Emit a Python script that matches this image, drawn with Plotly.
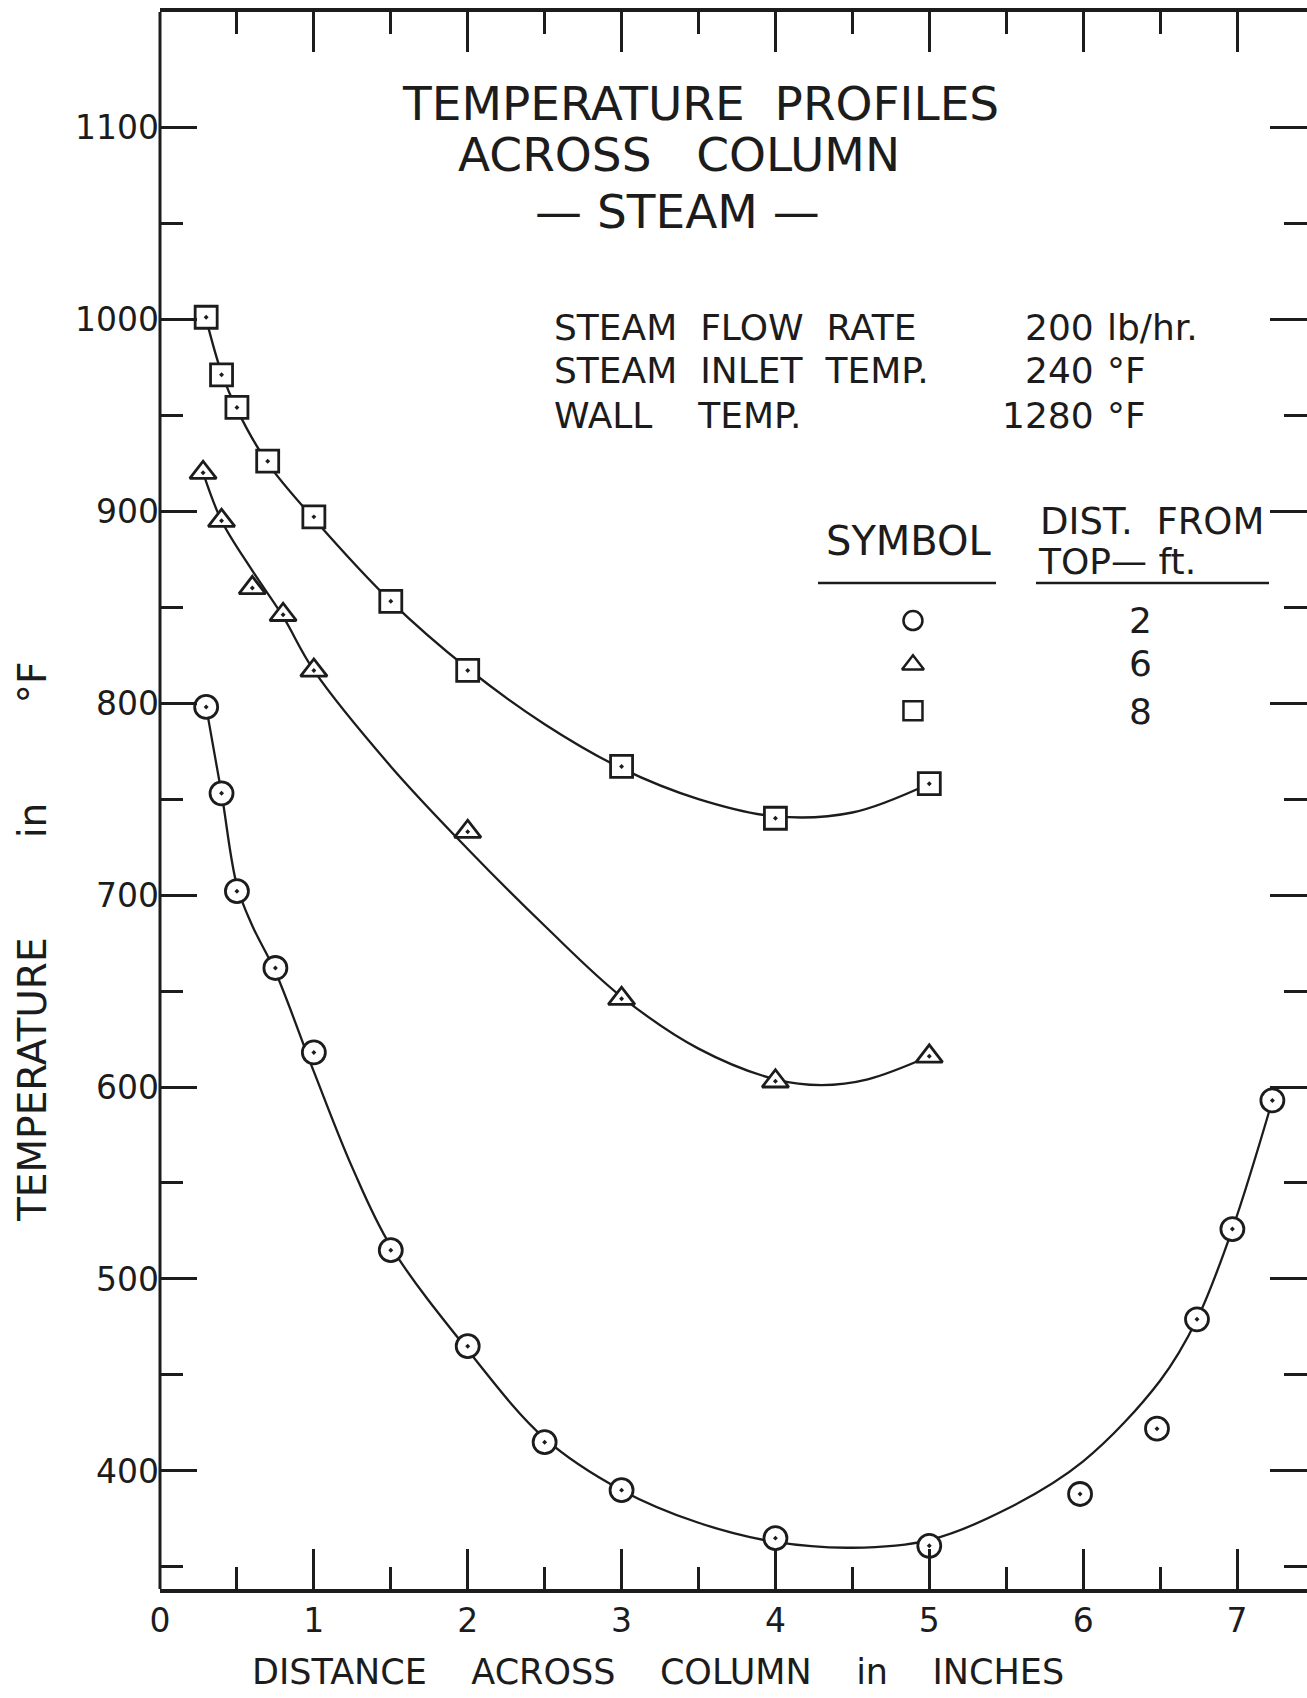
import plotly.graph_objects as go

# ---------------- data ----------------
# measured points, 8 ft from top (squares)
sq_x = [0.30, 0.40, 0.50, 0.70, 1.0, 1.5, 2.0, 3.0, 4.0, 5.0]
sq_y = [1001, 971, 954, 926, 897, 853, 817, 767, 740, 758]
# measured points, 6 ft from top (triangles)
tri_x = [0.28, 0.40, 0.60, 0.80, 1.0, 2.0, 3.0, 4.0, 5.0]
tri_y = [920, 895, 860, 846, 817, 733, 646, 603, 616]
# measured points, 2 ft from top (circles)
cir_x = [0.30, 0.40, 0.50, 0.75, 1.0, 1.5, 2.0, 2.5, 3.0, 4.0, 5.0, 5.98, 6.48, 6.74, 6.97, 7.23]
cir_y = [798, 753, 702, 662, 618, 515, 465, 415, 390, 365, 361, 388, 422, 479, 526, 593]

# hand-drawn smooth curves
fit8_x = [0.30, 0.40, 0.50, 0.70, 1.0, 1.5, 2.0, 2.5, 3.0, 3.5, 4.0, 4.5, 5.0]
fit8_y = [1000, 972, 953, 925, 896, 853, 818, 789, 766, 750, 741, 743, 758]
fit6_x = [0.28, 0.40, 0.60, 0.80, 1.0, 1.5, 2.0, 2.5, 3.0, 3.5, 4.0, 4.3, 4.6, 5.0]
fit6_y = [920, 895, 869, 845, 817, 767, 724, 684, 647, 620, 604, 601, 604, 616]
fit2_x = [0.30, 0.40, 0.50, 0.60, 0.75, 1.0, 1.25, 1.5, 2.0, 2.5, 3.0, 3.5, 4.0, 4.5, 5.0, 5.5, 6.0, 6.5, 6.74, 6.97, 7.23]
fit2_y = [798, 753, 705, 684, 660, 608, 558, 517, 463, 417, 390, 373, 363, 360, 364, 380, 405, 447, 479, 526, 593]

# axis ticks
x_major = [0, 1, 2, 3, 4, 5, 6, 7]
x_minor = [0.5, 1.5, 2.5, 3.5, 4.5, 5.5, 6.5]
y_major = [400, 500, 600, 700, 800, 900, 1000, 1100]
y_minor = [350, 450, 550, 650, 750, 850, 950, 1050]

# legend table
leg_symbols = ["circle-open", "triangle-up-open", "square-open"]
leg_dist = ["2", "6", "8"]

# conditions box
cond_labels = ["STEAM\u00a0\u00a0FLOW\u00a0\u00a0RATE", "STEAM\u00a0\u00a0INLET\u00a0\u00a0TEMP.",
               "WALL\u00a0\u00a0\u00a0\u00a0TEMP."]
cond_values = ["200", "240", "1280"]
cond_units = ["lb/hr.", "\u00b0F", "\u00b0F"]

# ---------------- styling ----------------
INK = "#1c1c1c"
FONT = "DejaVu Sans"
ML, MT, MR, MB = 160, 12, 0, 109
WIDTH, HEIGHT = 1307, 1698
PW, PH = WIDTH - ML - MR, HEIGHT - MT - MB


def px(X):
    return (X - ML) / PW


def py(Y):
    return (HEIGHT - MB - Y) / PH


fig = go.Figure()

for fx, fy in [(fit8_x, fit8_y), (fit6_x, fit6_y), (fit2_x, fit2_y)]:
    fig.add_trace(go.Scatter(x=fx, y=fy, mode="lines",
                             line=dict(color=INK, width=2.3, shape="spline", smoothing=1.0),
                             hoverinfo="skip", showlegend=False))

for mx, my, sym, sz in [(sq_x, sq_y, "square-dot", 22), (tri_x, tri_y, "triangle-up-dot", 23),
                        (cir_x, cir_y, "circle-dot", 23)]:
    fig.add_trace(go.Scatter(x=mx, y=my, mode="markers",
                             marker=dict(symbol=sym, size=sz, color="white",
                                         line=dict(color=INK, width=2.8)),
                             showlegend=False))

# legend symbols (placed in the table area)
leg_x = [4.894, 4.894, 4.894]
leg_y = [843, 820, 796]
fig.add_trace(go.Scatter(x=leg_x, y=leg_y, mode="markers",
                         marker=dict(symbol=leg_symbols, size=19, color=INK,
                                     line=dict(color=INK, width=2.5)),
                         hoverinfo="skip", showlegend=False))

ann = []
tfont = dict(family=FONT, size=47, color=INK)
ann.append(dict(text="TEMPERATURE\u00a0\u00a0PROFILES", x=px(700), y=py(103), font=tfont))
ann.append(dict(text="ACROSS\u00a0\u00a0\u00a0COLUMN", x=px(679), y=py(154), font=tfont))
ann.append(dict(text="\u2014\u00a0STEAM\u00a0\u2014", x=px(677), y=py(211), font=tfont))

cfont = dict(family=FONT, size=36, color=INK)
for i, yy in enumerate([327, 371, 415]):
    ann.append(dict(text=cond_labels[i], x=px(552), y=py(yy), xanchor="left", font=cfont))
    ann.append(dict(text=cond_values[i], x=px(1096), y=py(yy), xanchor="right", font=cfont))
    ann.append(dict(text=cond_units[i], x=px(1105), y=py(yy), xanchor="left", font=cfont))

lfont = dict(family=FONT, size=36, color=INK)
ann.append(dict(text="SYMBOL", x=px(909), y=py(541), font=dict(family=FONT, size=40, color=INK)))
ann.append(dict(text="DIST.\u00a0\u00a0FROM", x=px(1038), y=py(521), xanchor="left",
                font=dict(family=FONT, size=37, color=INK)))
ann.append(dict(text="TOP\u2014\u00a0ft.", x=px(1036), y=py(561), xanchor="left", font=lfont))
for i, yy in enumerate([620, 664, 711]):
    ann.append(dict(text=leg_dist[i], x=px(1140), y=py(yy), font=lfont))

gap8 = "\u00a0" * 8
ann.append(dict(text="TEMPERATURE" + gap8 + "in" + gap8 + "\u00b0F", x=px(32), y=py(942),
                textangle=-90, font=dict(family=FONT, size=39, color=INK)))
gap4 = "\u00a0" * 4
ann.append(dict(text="DISTANCE" + gap4 + "ACROSS" + gap4 + "COLUMN" + gap4 + "in" + gap4 + "INCHES",
                x=px(658), y=py(1672), font=dict(family=FONT, size=35, color=INK)))

for a in ann:
    a.update(xref="paper", yref="paper", showarrow=False)
    a.setdefault("xanchor", "center")
    a.setdefault("yanchor", "middle")

shapes = [
    # left frame edge (right edge of the original frame is cut off)
    dict(type="line", xref="paper", yref="paper", x0=0, x1=0, y0=0, y1=1,
         line=dict(color=INK, width=3)),
    dict(type="line", xref="paper", yref="paper", x0=px(818), x1=px(996), y0=py(583), y1=py(583),
         line=dict(color=INK, width=2.5)),
    dict(type="line", xref="paper", yref="paper", x0=px(1036), x1=px(1269), y0=py(583), y1=py(583),
         line=dict(color=INK, width=2.5)),
]

fig.update_layout(
    width=WIDTH, height=HEIGHT,
    margin=dict(l=ML, r=MR, t=MT, b=MB, pad=0),
    paper_bgcolor="white", plot_bgcolor="white",
    annotations=ann, shapes=shapes,
    font=dict(family=FONT, color=INK),
    xaxis=dict(range=[0, 7.455], tickmode="array", tickvals=x_major,
               ticktext=[str(v) for v in x_major],
               ticks="inside", ticklen=40, tickwidth=2.5, tickcolor=INK,
               minor=dict(tickmode="array", tickvals=x_minor, ticks="inside", ticklen=22,
                          tickwidth=2.5, tickcolor=INK, showgrid=False),
               showline=True, linewidth=3.5, linecolor=INK, mirror="ticks",
               showgrid=False, zeroline=False,
               tickfont=dict(family=FONT, size=33, color=INK), ticklabelstandoff=0),
    yaxis=dict(range=[338.5, 1160], tickmode="array", tickvals=y_major,
               ticktext=[str(v) for v in y_major],
               ticks="inside", ticklen=37, tickwidth=2.5, tickcolor=INK,
               minor=dict(tickmode="array", tickvals=y_minor, ticks="inside", ticklen=23,
                          tickwidth=2.5, tickcolor=INK, showgrid=False),
               showline=False, mirror="ticks",
               showgrid=False, zeroline=False,
               tickfont=dict(family=FONT, size=33, color=INK), ticklabelstandoff=0),
)

fig.write_html("out.html")
